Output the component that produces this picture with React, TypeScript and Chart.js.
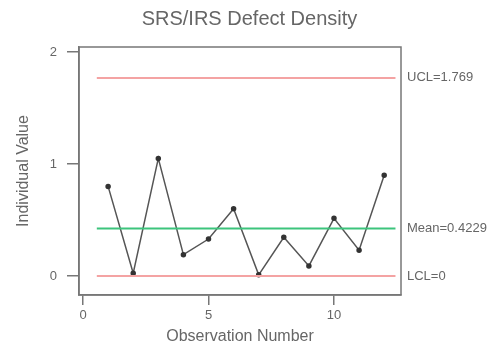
import React, { useEffect, useRef } from "react";
import { Chart, registerables } from "chart.js";

Chart.register(...registerables);

const observations = [1, 2, 3, 4, 5, 6, 7, 8, 9, 10, 11, 12];
const individualValues = [0.8, 0.024, 1.05, 0.19, 0.33, 0.6, 0.01, 0.345, 0.09, 0.515, 0.23, 0.9];
const ucl = 1.769;
const meanValue = 0.4229;
const lcl = 0;
const controlLabels = ["UCL=1.769", "Mean=0.4229", "LCL=0"];
const controlValues = [ucl, meanValue, lcl];
const lineStart = 0.55;
const lineEnd = 12.45;
const xTicks = [0, 5, 10];
const yTicks = [0, 1, 2];
const chartTitle = "SRS/IRS Defect Density";

const FONT = "'Liberation Sans', Arial, sans-serif";
const TEXT = "#666";
const AXIS = "#777";

const boxPlugin = {
  id: "boxAndLabels",
  afterDraw(chart: any) {
    const { ctx, chartArea } = chart;
    const y = chart.scales.y;
    ctx.save();
    ctx.strokeStyle = AXIS;
    ctx.lineWidth = 1.5;
    ctx.strokeRect(chartArea.left, chartArea.top, chartArea.right - chartArea.left, chartArea.bottom - chartArea.top);
    ctx.fillStyle = TEXT;
    ctx.font = `13px ${FONT}`;
    ctx.textAlign = "left";
    ctx.textBaseline = "middle";
    controlLabels.forEach((lab, i) => {
      ctx.fillText(lab, chartArea.right + 6, y.getPixelForValue(controlValues[i]));
    });
    ctx.font = `20px ${FONT}`;
    ctx.textAlign = "center";
    ctx.fillText(chartTitle, chart.width / 2 + 1, 19);
    ctx.restore();
  },
};

export default function App() {
  const ref = useRef<HTMLCanvasElement | null>(null);
  useEffect(() => {
    if (!ref.current) return;
    const hline = (v: number) => [
      { x: lineStart, y: v },
      { x: lineEnd, y: v },
    ];
    const chart = new Chart(ref.current, {
      type: "line",
      data: {
        datasets: [
          {
            label: "UCL",
            data: hline(ucl),
            borderColor: "#f4a3a3",
            borderWidth: 2,
            pointRadius: 0,
          },
          {
            label: "Mean",
            data: hline(meanValue),
            borderColor: "#3cc47c",
            borderWidth: 2,
            pointRadius: 0,
          },
          {
            label: "LCL",
            data: hline(lcl),
            borderColor: "#f4a3a3",
            borderWidth: 2,
            pointRadius: 0,
          },
          {
            label: "Individual Value",
            data: observations.map((o, i) => ({ x: o, y: individualValues[i] })),
            borderColor: "#555",
            borderWidth: 1.5,
            pointRadius: 2,
            pointBackgroundColor: "#333",
            pointBorderColor: "#333",
            pointStyle: "circle",
          },
        ],
      },
      options: {
        animation: false,
        responsive: false,
        layout: { padding: { top: 47, right: 96, bottom: 0, left: 0 } },
        plugins: {
          legend: { display: false },
          tooltip: { enabled: false },
          title: { display: false },
        },
        scales: {
          x: {
            type: "linear",
            min: -0.16,
            max: 12.67,
            afterBuildTicks: (s: any) => {
              s.ticks = xTicks.map((v) => ({ value: v }));
            },
            afterFit: (s: any) => {
              s.height = 50;
            },
            ticks: {
              color: TEXT,
              font: { family: FONT, size: 13 },
              padding: 3,
              autoSkip: false,
              maxRotation: 0,
            },
            grid: { drawOnChartArea: false, drawTicks: true, tickLength: 10, color: AXIS, lineWidth: 1.5 },
            border: { display: true, color: AXIS, width: 1.5 },
            title: {
              display: true,
              text: "Observation Number",
              color: TEXT,
              font: { family: FONT, size: 16, lineHeight: 1 },
              padding: 0,
            },
          },
          y: {
            type: "linear",
            min: -0.17,
            max: 2.045,
            afterBuildTicks: (s: any) => {
              s.ticks = yTicks.map((v) => ({ value: v }));
            },
            afterFit: (s: any) => {
              s.width = 79;
            },
            ticks: {
              color: TEXT,
              font: { family: FONT, size: 13 },
              padding: 10,
            },
            grid: { drawOnChartArea: false, drawTicks: true, tickLength: 12, color: AXIS, lineWidth: 1.5 },
            border: { display: true, color: AXIS, width: 1.5 },
            title: {
              display: true,
              text: "Individual Value",
              color: TEXT,
              font: { family: FONT, size: 16, lineHeight: 1.2 },
              padding: { top: 14, bottom: 0 },
            },
          },
        },
      },
      plugins: [boxPlugin],
    });
    return () => chart.destroy();
  }, []);
  return (
    <div style={{ position: "fixed", left: 0, top: 0, width: 497, height: 345, background: "#fff" }}>
      <canvas ref={ref} width={497} height={345} style={{ width: 497, height: 345, display: "block" }} />
    </div>
  );
}
